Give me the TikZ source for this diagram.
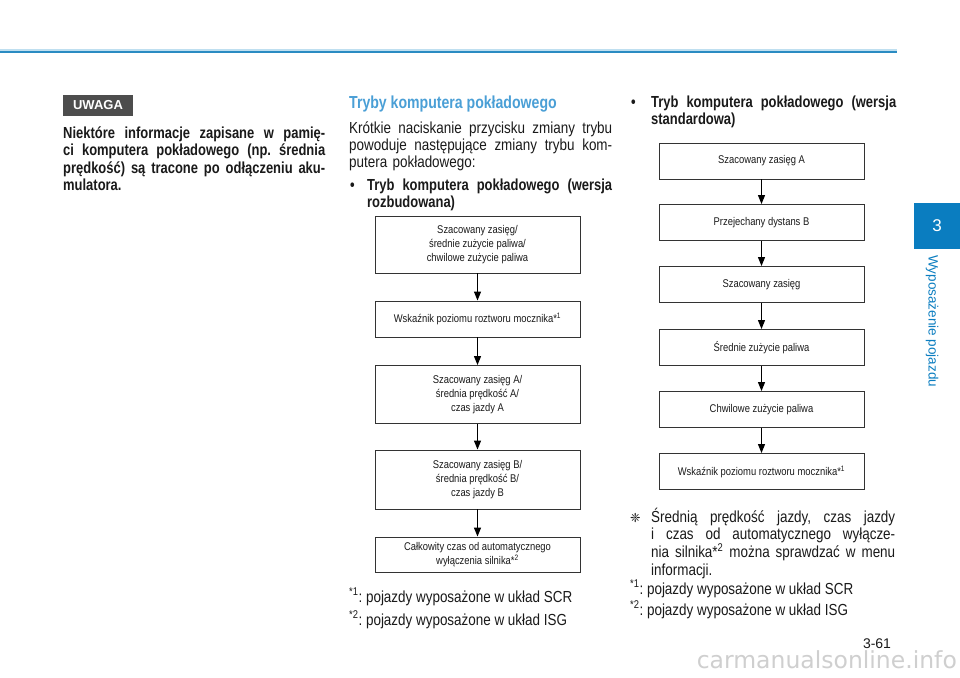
\documentclass[tikz,border=0pt]{standalone}
\usepackage{fontspec}
\setmainfont{Liberation Sans}[FakeStretch=0.84,BoldFeatures={FakeStretch=0.81}]
\newfontfamily\plainsans{Liberation Sans}
\newfontfamily\dejavu{DejaVu Sans}
\usetikzlibrary{arrows.meta}
\definecolor{hblue}{HTML}{2A8BC2}
\definecolor{hbluelight}{HTML}{BFDFF0}
\definecolor{tabblue}{HTML}{0A7DC0}
\definecolor{headblue}{HTML}{4A9FD6}
\definecolor{uwgray}{HTML}{4D4D4D}
\definecolor{boxline}{HTML}{333333}
\definecolor{txt}{HTML}{1A1A1A}
\definecolor{wmark}{HTML}{CFCFCF}
\newcommand{\jl}[2]{\hbox to #1{\spaceskip=\fontdimen2\font plus 1fil minus 0.3\fontdimen2\font\relax #2}}
\frenchspacing
\begin{document}
\begin{tikzpicture}[x=1pt,y=-1pt,
  flowbox/.style={draw=boxline,line width=0.9pt,minimum width=205pt,align=center,inner sep=0pt,text=txt,font=\fontsize{11.2}{13.8}\selectfont},
  flowarrow/.style={draw=black,line width=1.1pt,-{Triangle[length=9pt,width=7pt]}},
  body/.style={anchor=base west,inner sep=0pt,text=txt,font=\fontsize{16}{17.3}\selectfont,align=left},
  line/.style={anchor=base west,inner sep=0pt,text=txt,font=\fontsize{16}{17.3}\selectfont},
]
\useasboundingbox[fill=white] (0,0) rectangle (960,677);

% top rule
\draw[hbluelight,line width=1.2pt] (0,50) -- (897,50);
\draw[hblue,line width=1.6pt] (0,51.8) -- (897,51.8);

% ---------------- left column
\node[fill=uwgray,text=white,font=\plainsans\bfseries\fontsize{13}{13}\selectfont,
      minimum width=70pt,minimum height=21pt,inner sep=0pt] (uwaga) at (98,105.5) {UWAGA};
\node[body,text width=262pt] (uwtext) at (63,138.5) {\bfseries
 \jl{262pt}{Niektóre informacje zapisane w pamię-}
 \jl{262pt}{ci komputera pokładowego (np. średnia}
 \jl{262pt}{prędkość) są tracone po odłączeniu aku-}
 \noindent mulatora.};

% ---------------- middle column
\node[anchor=base west,inner sep=0pt,text=headblue,font=\bfseries\fontsize{17.4}{18}\selectfont] (head) at (349,108) {Tryby komputera pokładowego};
\node[body,text width=263pt] (intro) at (349,133) {
 \jl{263pt}{Krótkie naciskanie przycisku zmiany trybu}
 \jl{263pt}{powoduje następujące zmiany trybu kom-}
 \noindent putera pokładowego:};
\node[line,font=\bfseries\fontsize{16}{17}\selectfont] (bul1) at (350,190) {•};
\node[body,text width=245pt] (mode1) at (367,190) {\bfseries
 \jl{245pt}{Tryb komputera pokładowego (wersja}
 \noindent rozbudowana)};

\node[flowbox,minimum height=57pt] (m1) at (477.5,244.5) {Szacowany zasięg/\\średnie zużycie paliwa/\\chwilowe zużycie paliwa};
\node[flowbox,minimum height=36pt] (m2) at (477.5,319) {Wskaźnik poziomu roztworu mocznika*\textsuperscript{1}};
\node[flowbox,minimum height=58pt] (m3) at (477.5,394.5) {Szacowany zasięg A/\\średnia prędkość A/\\czas jazdy A};
\node[flowbox,minimum height=59pt] (m4) at (477.5,479.5) {Szacowany zasięg B/\\średnia prędkość B/\\czas jazdy B};
\node[flowbox,minimum height=35pt] (m5) at (477.5,554.5) {Całkowity czas od automatycznego\\wyłączenia silnika*\textsuperscript{2}};
\draw[flowarrow] (m1) -- (m2);
\draw[flowarrow] (m2) -- (m3);
\draw[flowarrow] (m3) -- (m4);
\draw[flowarrow] (m4) -- (m5);

\node[line] (fn1) at (349,602) {\textsuperscript{*1}: pojazdy wyposażone w układ SCR};
\node[line] (fn2) at (349,625) {\textsuperscript{*2}: pojazdy wyposażone w układ ISG};

% ---------------- right column
\node[line,font=\bfseries\fontsize{16}{17}\selectfont] (bul2) at (631,107) {•};
\node[body,text width=245pt] (mode2) at (651,107) {\bfseries
 \jl{245pt}{Tryb komputera pokładowego (wersja}
 \noindent standardowa)};

\node[flowbox,minimum height=36pt] (r1) at (761.5,161) {Szacowany zasięg A};
\node[flowbox,minimum height=36pt] (r2) at (761.5,222.5) {Przejechany dystans B};
\node[flowbox,minimum height=36pt] (r3) at (761.5,284.5) {Szacowany zasięg};
\node[flowbox,minimum height=36pt] (r4) at (761.5,347.5) {Średnie zużycie paliwa};
\node[flowbox,minimum height=36pt] (r5) at (761.5,409.5) {Chwilowe zużycie paliwa};
\node[flowbox,minimum height=36pt] (r6) at (761.5,471.5) {Wskaźnik poziomu roztworu mocznika*\textsuperscript{1}};
\draw[flowarrow] (r1) -- (r2);
\draw[flowarrow] (r2) -- (r3);
\draw[flowarrow] (r3) -- (r4);
\draw[flowarrow] (r4) -- (r5);
\draw[flowarrow] (r5) -- (r6);

\node[line,font=\dejavu\fontsize{12.5}{12.5}\selectfont] (star) at (630,522) {❈};
\node[body,text width=244pt] (note) at (651,522) {
 \jl{244pt}{Średnią prędkość jazdy, czas jazdy}
 \jl{244pt}{i czas od automatycznego wyłącze-}
 \jl{244pt}{nia silnika*\textsuperscript{2} można sprawdzać w menu}
 \noindent informacji.};
\node[line] (fn3) at (630,594) {\textsuperscript{*1}: pojazdy wyposażone w układ SCR};
\node[line] (fn4) at (630,615) {\textsuperscript{*2}: pojazdy wyposażone w układ ISG};

% ---------------- side tab
\node[fill=tabblue,minimum width=46pt,minimum height=46pt,inner sep=0pt,text=white,
      font=\plainsans\fontsize{17}{17}\selectfont] (tab) at (937,226) {3};
\node[rotate=-90,anchor=west,inner sep=0pt,text=tabblue,font=\plainsans\fontsize{13.5}{13.5}\selectfont] (tabtext) at (932,255) {Wyposażenie pojazdu};

% page number
\node[anchor=base,inner sep=0pt,text=txt,font=\plainsans\fontsize{14}{14}\selectfont] (pnum) at (877,648) {3-61};

% watermark
\node[anchor=base east,inner sep=0pt,text=wmark,font=\dejavu\fontsize{23.5}{23.5}\selectfont] (wm) at (957,668) {carmanualsonline.info};
\end{tikzpicture}
\end{document}
